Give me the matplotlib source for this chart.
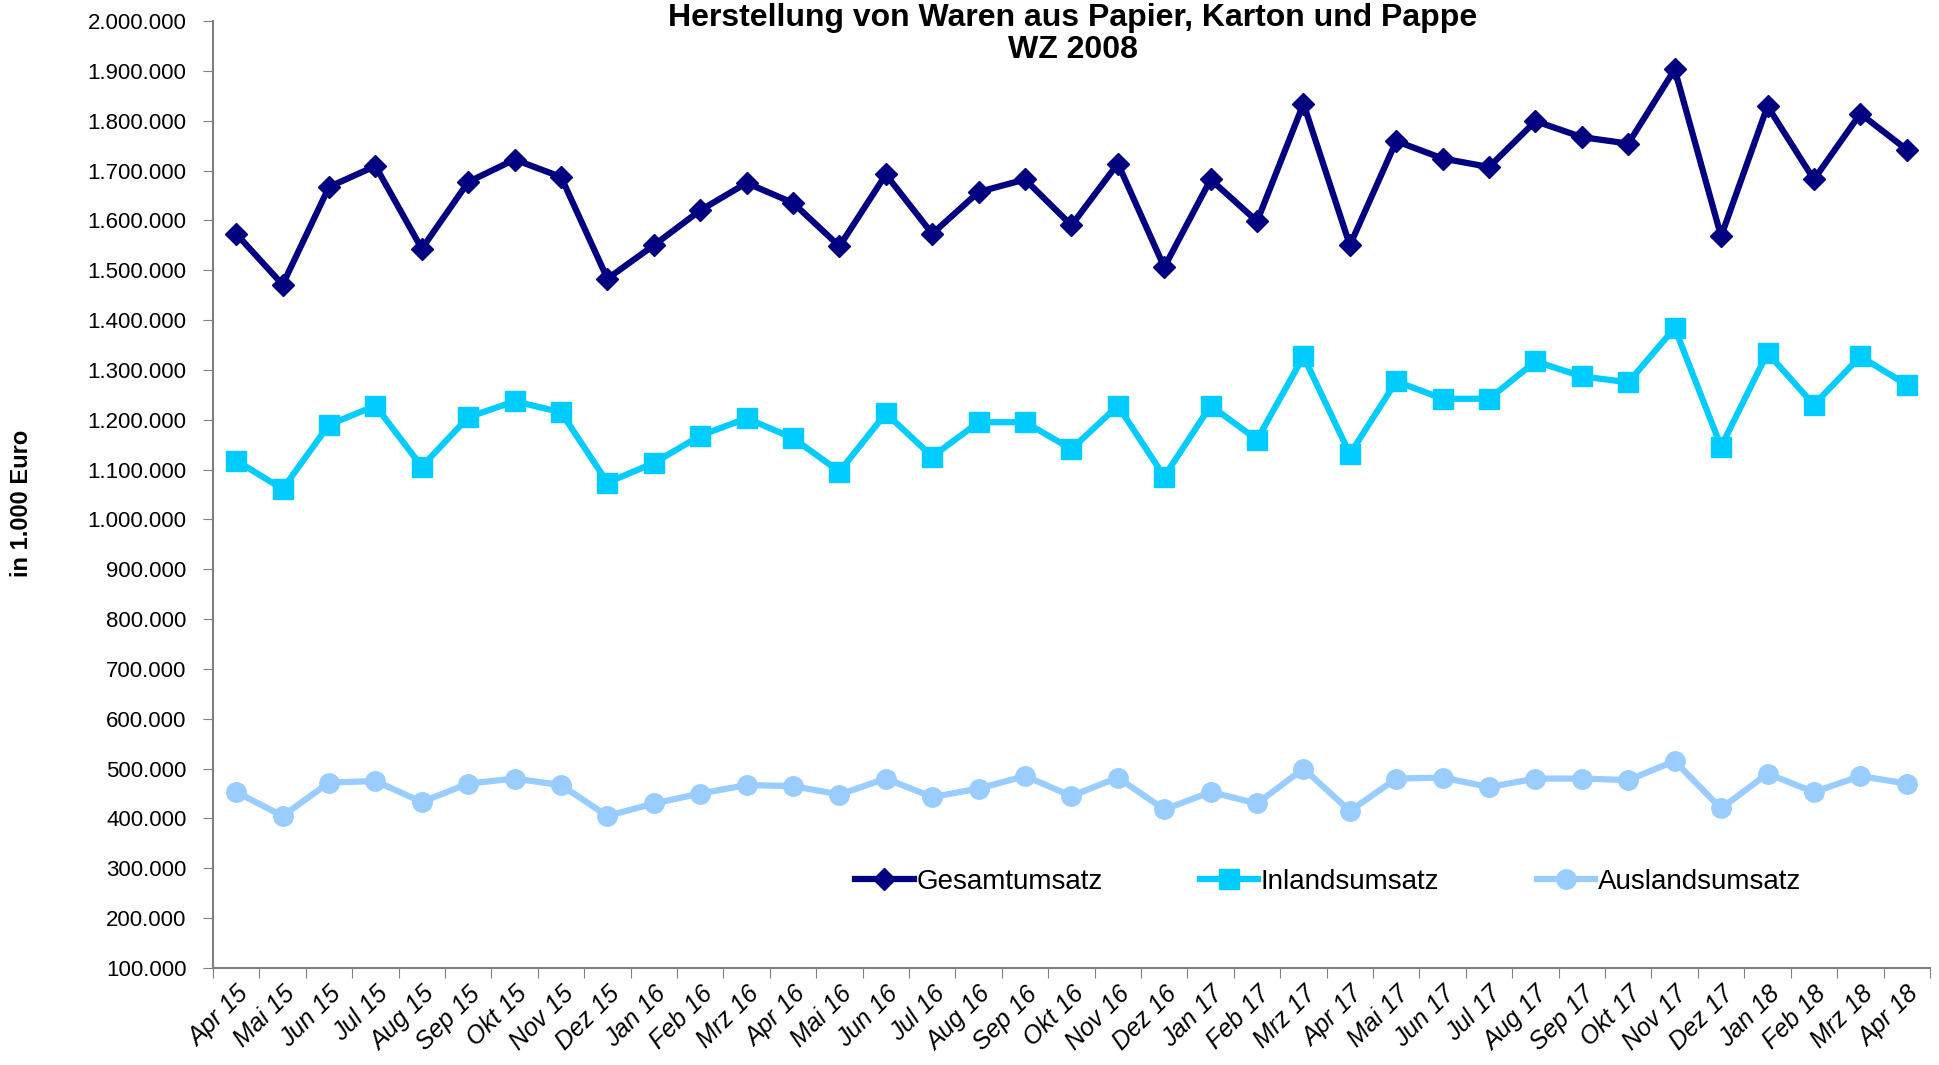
import matplotlib
matplotlib.use("Agg")
import matplotlib.pyplot as plt
from matplotlib.ticker import FuncFormatter, FixedLocator
import numpy as np

plt.rcParams['font.family'] = ['Liberation Sans', 'DejaVu Sans']

months = ["Apr 15", "Mai 15", "Jun 15", "Jul 15", "Aug 15", "Sep 15", "Okt 15", "Nov 15", "Dez 15",
          "Jan 16", "Feb 16", "Mrz 16", "Apr 16", "Mai 16", "Jun 16", "Jul 16", "Aug 16", "Sep 16",
          "Okt 16", "Nov 16", "Dez 16", "Jan 17", "Feb 17", "Mrz 17", "Apr 17", "Mai 17", "Jun 17",
          "Jul 17", "Aug 17", "Sep 17", "Okt 17", "Nov 17", "Dez 17", "Jan 18", "Feb 18", "Mrz 18",
          "Apr 18"]

gesamt = [1573000, 1471000, 1667000, 1709000, 1543000, 1677000, 1722000, 1687000, 1483000,
          1550000, 1620000, 1675000, 1635000, 1548000, 1692000, 1573000, 1657000, 1682000,
          1590000, 1714000, 1506000, 1682000, 1598000, 1834000, 1550000, 1759000, 1724000,
          1707000, 1799000, 1767000, 1754000, 1903000, 1568000, 1829000, 1682000, 1814000,
          1742000]

inland = [1118000, 1061000, 1190000, 1228000, 1106000, 1205000, 1237000, 1215000, 1074000,
          1113000, 1168000, 1203000, 1163000, 1096000, 1213000, 1126000, 1195000, 1195000,
          1141000, 1228000, 1086000, 1228000, 1160000, 1327000, 1131000, 1277000, 1242000,
          1242000, 1317000, 1287000, 1275000, 1384000, 1146000, 1334000, 1230000, 1327000,
          1270000]

ausland = [453000, 405000, 472000, 475000, 433000, 470000, 480000, 467000, 405000,
           430000, 450000, 467000, 465000, 448000, 480000, 443000, 460000, 485000,
           445000, 482000, 418000, 453000, 430000, 500000, 415000, 480000, 482000,
           463000, 480000, 480000, 477000, 515000, 420000, 490000, 453000, 485000,
           470000]

x = np.arange(len(months))

fig = plt.figure(figsize=(19.4, 10.65), dpi=100)
ax = fig.add_axes([0.1098, 0.0911, 0.885, 0.8892])

ax.plot(x, gesamt, color='#000080', lw=4.5, marker='D', markersize=11, label='Gesamtumsatz')
ax.plot(x, inland, color='#00CCFF', lw=4.5, marker='s', markersize=14, label='Inlandsumsatz')
ax.plot(x, ausland, color='#99CCFF', lw=4.5, marker='o', markersize=14, label='Auslandsumsatz')

ax.set_xlim(-0.5, len(months) - 0.5)
ax.set_ylim(100000, 2000000)
ax.set_yticks(np.arange(100000, 2000001, 100000))
ax.yaxis.set_major_formatter(FuncFormatter(lambda v, p: f"{int(v):,}".replace(",", ".")))

# tick marks between categories, labels at category centres
ax.set_xticks(np.arange(-0.5, len(months) + 0.5, 1))
ax.set_xticklabels([])
ax.xaxis.set_minor_locator(FixedLocator(x))
ax.set_xticks(x, minor=True)
ax.set_xticklabels(months, minor=True, rotation=45, ha='right', va='top',
                   rotation_mode='anchor', style='italic', fontsize=18)
ax.tick_params(axis='x', which='minor', length=0, pad=10)
ax.tick_params(axis='x', which='major', length=7, color='#808080')
ax.tick_params(axis='y', length=7, color='#808080', labelsize=16, pad=12)

for side in ['top', 'right']:
    ax.spines[side].set_visible(False)
for side in ['left', 'bottom']:
    ax.spines[side].set_color('#808080')
    ax.spines[side].set_linewidth(1.5)

fig.text(0.553, 0.983, "Herstellung von Waren aus Papier, Karton und Pappe",
         fontsize=23, fontweight='bold', ha='center', va='center')
fig.text(0.553, 0.953, "WZ 2008", fontsize=23, fontweight='bold', ha='center', va='center')
fig.text(0.011, 0.527, "in 1.000 Euro", rotation=90, fontsize=17, fontweight='bold',
         ha='center', va='center')

ax.legend(loc='center left', bbox_to_anchor=(0.366, 0.091), ncol=3, frameon=False,
          fontsize=20, handlelength=2.1, handletextpad=0.1, columnspacing=3.5, borderpad=0)

fig.savefig("out.png", dpi=100)
